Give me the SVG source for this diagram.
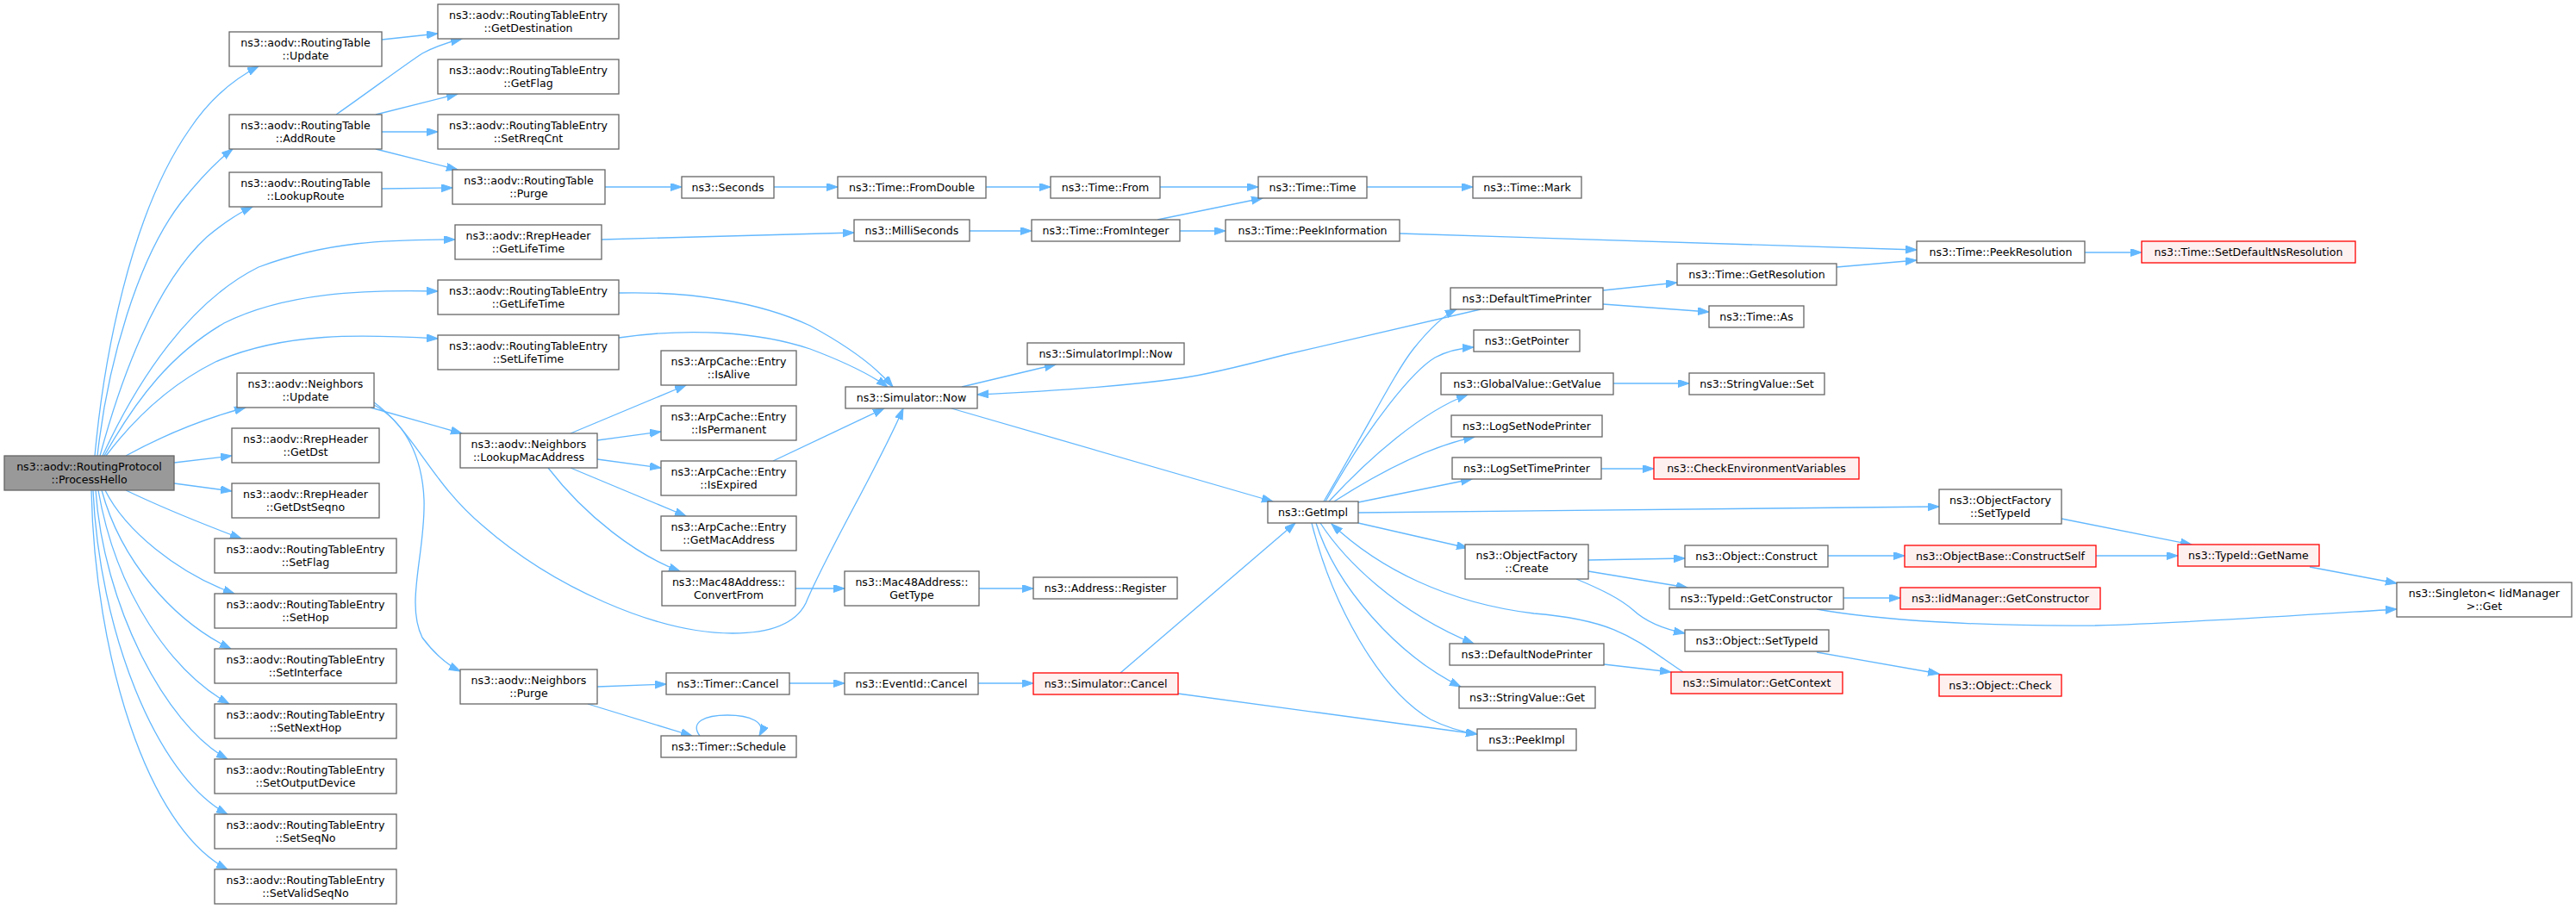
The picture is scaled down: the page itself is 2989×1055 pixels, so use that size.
<svg xmlns="http://www.w3.org/2000/svg" width="2989" height="1055" viewBox="0 0 2989 1055">
<style>
rect{stroke-width:1.3}
.n{fill:#ffffff;stroke:#666666}
.r{fill:#fff0f0;stroke:#ff0000}
.h{fill:#999999;stroke:#666666}
text{font-family:"DejaVu Sans","Liberation Sans",sans-serif;font-size:12.6px;fill:#000000;text-anchor:middle}
#edges path{fill:none;stroke:#63b8ff;stroke-width:1.3;marker-end:url(#a)}
</style>
<defs>
<marker id="a" markerWidth="14" markerHeight="10" refX="13" refY="4.5" orient="auto" markerUnits="userSpaceOnUse"><path d="M0,0 L13,4.5 L0,9 z" fill="#63b8ff" stroke="#63b8ff" stroke-width="1"/></marker>
</defs>
<rect width="2989" height="1055" fill="#ffffff"/>
<g id="edges">
<path d="M110,529 C120,420 150,250 220,150 C240,120 265,95 300,77"/>
<path d="M113,529 C125,420 160,300 210,235 C230,210 250,188 270,173"/>
<path d="M116,529 C140,440 180,330 240,275 C258,260 275,248 293,240"/>
<path d="M119,529 C160,440 220,350 300,310 C380,280 450,278 528,278"/>
<path d="M121,529 C160,460 200,410 260,375 C330,340 420,336 508,338"/>
<path d="M123,529 C160,480 200,445 250,420 C330,385 420,388 508,393"/>
<path d="M146,529 C190,505 240,485 285,473"/>
<path d="M202,537 L269,529"/>
<path d="M202,561 L269,570"/>
<path d="M146,569 C190,590 240,610 280,625"/>
<path d="M122,569 C145,615 205,665 272,689"/>
<path d="M118,569 C140,650 200,720 268,753"/>
<path d="M114,569 C135,690 200,780 266,817"/>
<path d="M111,569 C120,700 190,840 264,881"/>
<path d="M108,569 C115,730 180,900 264,945"/>
<path d="M106,569 C110,760 170,960 264,1009"/>
<path d="M443,46 L508,39"/>
<path d="M390,133 C430,105 470,75 490,62 C505,54 520,49 536,45"/>
<path d="M436,133 L531,109"/>
<path d="M443,153 L508,153"/>
<path d="M436,173 L531,197"/>
<path d="M443,219 L525,218"/>
<path d="M702,217 L791,217"/>
<path d="M898,217 L972,217"/>
<path d="M1144,217 L1219,217"/>
<path d="M1346,217 L1460,217"/>
<path d="M1586,217 L1709,217"/>
<path d="M698,278 L991,270"/>
<path d="M1125,268 L1197,268"/>
<path d="M1343,255 L1465,230"/>
<path d="M1369,268 L1422,268"/>
<path d="M1624,271 L2224,290"/>
<path d="M2131,310 L2224,302"/>
<path d="M2419,293 L2485,293"/>
<path d="M1860,337 L1946,328"/>
<path d="M1860,353 L1983,362"/>
<path d="M718,340 C800,338 880,350 940,378 C990,405 1020,430 1036,449"/>
<path d="M718,392 C800,380 880,385 940,405 C980,420 1010,435 1030,449"/>
<path d="M897,535 L1026,474"/>
<path d="M434,467 C480,500 500,560 560,610 C640,680 760,735 850,735 C900,735 925,720 935,700 C960,640 1020,540 1048,474"/>
<path d="M434,470 C470,490 490,530 492,580 C494,640 470,700 490,740 C505,760 520,772 534,779"/>
<path d="M430,473 L536,503"/>
<path d="M662,503 L796,447"/>
<path d="M693,511 L767,501"/>
<path d="M693,533 L767,543"/>
<path d="M662,543 L796,599"/>
<path d="M636,543 C680,600 740,645 789,663"/>
<path d="M923,683 L980,683"/>
<path d="M1136,683 L1199,683"/>
<path d="M693,797 L773,794"/>
<path d="M682,817 L803,854"/>
<path d="M812,854 C800,838 818,830 844,830 C870,830 890,838 881,854"/>
<path d="M916,793 L980,793"/>
<path d="M1135,793 L1199,793"/>
<path d="M1300,781 L1503,607"/>
<path d="M1367,805 L1714,852"/>
<path d="M1116,449 L1225,423"/>
<path d="M1104,474 L1477,582"/>
<path d="M1718,359 L1490,412 C1440,425 1400,435 1370,439 C1290,450 1200,455 1134,458"/>
<path d="M1536,582 C1590,490 1620,430 1640,405 C1660,380 1675,366 1690,359"/>
<path d="M1538,582 C1590,490 1640,430 1665,415 C1680,407 1695,404 1710,403"/>
<path d="M1542,582 C1590,530 1650,478 1703,458"/>
<path d="M1548,582 C1590,555 1650,520 1711,507"/>
<path d="M1576,583 L1708,556"/>
<path d="M1576,595 L2250,588"/>
<path d="M1576,607 L1703,636"/>
<path d="M1532,607 C1560,650 1620,710 1710,747"/>
<path d="M1527,607 C1550,680 1620,760 1695,797"/>
<path d="M1522,607 C1545,700 1600,800 1660,835 C1680,845 1700,850 1714,852"/>
<path d="M1953,780 C1900,745 1880,720 1780,712 C1680,700 1600,660 1545,608"/>
<path d="M1861,771 L1939,780"/>
<path d="M1872,445 L1960,445"/>
<path d="M1858,544 L1919,544"/>
<path d="M1843,650 L1955,648"/>
<path d="M1843,663 L1958,682"/>
<path d="M1829,672 C1860,685 1880,695 1895,708 C1910,722 1930,730 1955,735"/>
<path d="M2121,645 L2210,645"/>
<path d="M2139,694 L2205,694"/>
<path d="M2108,707 C2180,720 2300,727 2431,726 C2560,722 2700,712 2781,707"/>
<path d="M2108,757 L2250,782"/>
<path d="M2392,602 L2543,632"/>
<path d="M2432,645 L2527,645"/>
<path d="M2680,658 L2781,677"/>
</g>
<g id="n_processhello"><rect class="h" x="5" y="529" width="197" height="40"/><text x="103.5" y="545.5">ns3::aodv::RoutingProtocol</text><text x="103.5" y="560.5">::ProcessHello</text></g>
<g id="n_rt_update"><rect class="n" x="266" y="37" width="177" height="40"/><text x="354.5" y="53.5">ns3::aodv::RoutingTable</text><text x="354.5" y="68.5">::Update</text></g>
<g id="n_rt_addroute"><rect class="n" x="266" y="133" width="177" height="40"/><text x="354.5" y="149.5">ns3::aodv::RoutingTable</text><text x="354.5" y="164.5">::AddRoute</text></g>
<g id="n_rt_lookuproute"><rect class="n" x="266" y="200" width="177" height="40"/><text x="354.5" y="216.5">ns3::aodv::RoutingTable</text><text x="354.5" y="231.5">::LookupRoute</text></g>
<g id="n_nb_update"><rect class="n" x="275" y="433" width="159" height="40"/><text x="354.5" y="449.5">ns3::aodv::Neighbors</text><text x="354.5" y="464.5">::Update</text></g>
<g id="n_rrep_getdst"><rect class="n" x="269" y="497" width="171" height="40"/><text x="354.5" y="513.5">ns3::aodv::RrepHeader</text><text x="354.5" y="528.5">::GetDst</text></g>
<g id="n_rrep_getdstseqno"><rect class="n" x="269" y="561" width="171" height="40"/><text x="354.5" y="577.5">ns3::aodv::RrepHeader</text><text x="354.5" y="592.5">::GetDstSeqno</text></g>
<g id="n_rte_setflag"><rect class="n" x="249" y="625" width="211" height="40"/><text x="354.5" y="641.5">ns3::aodv::RoutingTableEntry</text><text x="354.5" y="656.5">::SetFlag</text></g>
<g id="n_rte_sethop"><rect class="n" x="249" y="689" width="211" height="40"/><text x="354.5" y="705.5">ns3::aodv::RoutingTableEntry</text><text x="354.5" y="720.5">::SetHop</text></g>
<g id="n_rte_setinterface"><rect class="n" x="249" y="753" width="211" height="40"/><text x="354.5" y="769.5">ns3::aodv::RoutingTableEntry</text><text x="354.5" y="784.5">::SetInterface</text></g>
<g id="n_rte_setnexthop"><rect class="n" x="249" y="817" width="211" height="40"/><text x="354.5" y="833.5">ns3::aodv::RoutingTableEntry</text><text x="354.5" y="848.5">::SetNextHop</text></g>
<g id="n_rte_setoutputdevice"><rect class="n" x="249" y="881" width="211" height="40"/><text x="354.5" y="897.5">ns3::aodv::RoutingTableEntry</text><text x="354.5" y="912.5">::SetOutputDevice</text></g>
<g id="n_rte_setseqno"><rect class="n" x="249" y="945" width="211" height="40"/><text x="354.5" y="961.5">ns3::aodv::RoutingTableEntry</text><text x="354.5" y="976.5">::SetSeqNo</text></g>
<g id="n_rte_setvalidseqno"><rect class="n" x="249" y="1009" width="211" height="40"/><text x="354.5" y="1025.5">ns3::aodv::RoutingTableEntry</text><text x="354.5" y="1040.5">::SetValidSeqNo</text></g>
<g id="n_rte_getdestination"><rect class="n" x="508" y="5" width="210" height="40"/><text x="613" y="21.5">ns3::aodv::RoutingTableEntry</text><text x="613" y="36.5">::GetDestination</text></g>
<g id="n_rte_getflag"><rect class="n" x="508" y="69" width="210" height="40"/><text x="613" y="85.5">ns3::aodv::RoutingTableEntry</text><text x="613" y="100.5">::GetFlag</text></g>
<g id="n_rte_setrreqcnt"><rect class="n" x="508" y="133" width="210" height="40"/><text x="613" y="149.5">ns3::aodv::RoutingTableEntry</text><text x="613" y="164.5">::SetRreqCnt</text></g>
<g id="n_rt_purge"><rect class="n" x="525" y="197" width="177" height="40"/><text x="613.5" y="213.5">ns3::aodv::RoutingTable</text><text x="613.5" y="228.5">::Purge</text></g>
<g id="n_rrep_getlifetime"><rect class="n" x="528" y="261" width="170" height="40"/><text x="613" y="277.5">ns3::aodv::RrepHeader</text><text x="613" y="292.5">::GetLifeTime</text></g>
<g id="n_rte_getlifetime"><rect class="n" x="508" y="325" width="210" height="40"/><text x="613" y="341.5">ns3::aodv::RoutingTableEntry</text><text x="613" y="356.5">::GetLifeTime</text></g>
<g id="n_rte_setlifetime"><rect class="n" x="508" y="389" width="210" height="40"/><text x="613" y="405.5">ns3::aodv::RoutingTableEntry</text><text x="613" y="420.5">::SetLifeTime</text></g>
<g id="n_nb_lookupmac"><rect class="n" x="534" y="503" width="159" height="40"/><text x="613.5" y="519.5">ns3::aodv::Neighbors</text><text x="613.5" y="534.5">::LookupMacAddress</text></g>
<g id="n_nb_purge"><rect class="n" x="534" y="777" width="159" height="40"/><text x="613.5" y="793.5">ns3::aodv::Neighbors</text><text x="613.5" y="808.5">::Purge</text></g>
<g id="n_seconds"><rect class="n" x="791" y="205" width="107" height="25"/><text x="844.5" y="221.5">ns3::Seconds</text></g>
<g id="n_arp_isalive"><rect class="n" x="767" y="407" width="157" height="40"/><text x="845.5" y="423.5">ns3::ArpCache::Entry</text><text x="845.5" y="438.5">::IsAlive</text></g>
<g id="n_arp_ispermanent"><rect class="n" x="767" y="471" width="157" height="40"/><text x="845.5" y="487.5">ns3::ArpCache::Entry</text><text x="845.5" y="502.5">::IsPermanent</text></g>
<g id="n_arp_isexpired"><rect class="n" x="767" y="535" width="157" height="40"/><text x="845.5" y="551.5">ns3::ArpCache::Entry</text><text x="845.5" y="566.5">::IsExpired</text></g>
<g id="n_arp_getmac"><rect class="n" x="767" y="599" width="157" height="40"/><text x="845.5" y="615.5">ns3::ArpCache::Entry</text><text x="845.5" y="630.5">::GetMacAddress</text></g>
<g id="n_mac_convertfrom"><rect class="n" x="768" y="663" width="155" height="40"/><text x="845.5" y="679.5">ns3::Mac48Address::</text><text x="845.5" y="694.5">ConvertFrom</text></g>
<g id="n_timer_cancel"><rect class="n" x="773" y="781" width="143" height="25"/><text x="844.5" y="797.5">ns3::Timer::Cancel</text></g>
<g id="n_timer_schedule"><rect class="n" x="767" y="854" width="157" height="25"/><text x="845.5" y="870.5">ns3::Timer::Schedule</text></g>
<g id="n_time_fromdouble"><rect class="n" x="972" y="205" width="172" height="25"/><text x="1058" y="221.5">ns3::Time::FromDouble</text></g>
<g id="n_milliseconds"><rect class="n" x="991" y="255" width="134" height="25"/><text x="1058" y="271.5">ns3::MilliSeconds</text></g>
<g id="n_sim_now"><rect class="n" x="981" y="449" width="153" height="25"/><text x="1057.5" y="465.5">ns3::Simulator::Now</text></g>
<g id="n_mac_gettype"><rect class="n" x="980" y="663" width="156" height="40"/><text x="1058" y="679.5">ns3::Mac48Address::</text><text x="1058" y="694.5">GetType</text></g>
<g id="n_eventid_cancel"><rect class="n" x="980" y="781" width="155" height="25"/><text x="1057.5" y="797.5">ns3::EventId::Cancel</text></g>
<g id="n_time_from"><rect class="n" x="1219" y="205" width="127" height="25"/><text x="1282.5" y="221.5">ns3::Time::From</text></g>
<g id="n_time_frominteger"><rect class="n" x="1197" y="255" width="172" height="25"/><text x="1283" y="271.5">ns3::Time::FromInteger</text></g>
<g id="n_simimpl_now"><rect class="n" x="1192" y="398" width="182" height="25"/><text x="1283" y="414.5">ns3::SimulatorImpl::Now</text></g>
<g id="n_address_register"><rect class="n" x="1199" y="670" width="167" height="25"/><text x="1282.5" y="686.5">ns3::Address::Register</text></g>
<g id="n_sim_cancel"><rect class="r" x="1199" y="781" width="168" height="25"/><text x="1283" y="797.5">ns3::Simulator::Cancel</text></g>
<g id="n_time_time"><rect class="n" x="1460" y="205" width="126" height="25"/><text x="1523" y="221.5">ns3::Time::Time</text></g>
<g id="n_time_peekinfo"><rect class="n" x="1422" y="255" width="202" height="25"/><text x="1523" y="271.5">ns3::Time::PeekInformation</text></g>
<g id="n_getimpl"><rect class="n" x="1471" y="582" width="105" height="25"/><text x="1523.5" y="598.5">ns3::GetImpl</text></g>
<g id="n_time_mark"><rect class="n" x="1709" y="205" width="126" height="25"/><text x="1772" y="221.5">ns3::Time::Mark</text></g>
<g id="n_defaulttimeprinter"><rect class="n" x="1683" y="334" width="177" height="25"/><text x="1771.5" y="350.5">ns3::DefaultTimePrinter</text></g>
<g id="n_getpointer"><rect class="n" x="1710" y="383" width="123" height="25"/><text x="1771.5" y="399.5">ns3::GetPointer</text></g>
<g id="n_globalvalue_getvalue"><rect class="n" x="1672" y="433" width="200" height="25"/><text x="1772" y="449.5">ns3::GlobalValue::GetValue</text></g>
<g id="n_logsetnodeprinter"><rect class="n" x="1684" y="482" width="175" height="25"/><text x="1771.5" y="498.5">ns3::LogSetNodePrinter</text></g>
<g id="n_logsettimeprinter"><rect class="n" x="1685" y="531" width="173" height="25"/><text x="1771.5" y="547.5">ns3::LogSetTimePrinter</text></g>
<g id="n_objfactory_create"><rect class="n" x="1700" y="632" width="143" height="40"/><text x="1771.5" y="648.5">ns3::ObjectFactory</text><text x="1771.5" y="663.5">::Create</text></g>
<g id="n_defaultnodeprinter"><rect class="n" x="1682" y="747" width="179" height="25"/><text x="1771.5" y="763.5">ns3::DefaultNodePrinter</text></g>
<g id="n_stringvalue_get"><rect class="n" x="1693" y="797" width="158" height="25"/><text x="1772" y="813.5">ns3::StringValue::Get</text></g>
<g id="n_peekimpl"><rect class="n" x="1714" y="846" width="115" height="25"/><text x="1771.5" y="862.5">ns3::PeekImpl</text></g>
<g id="n_time_getresolution"><rect class="n" x="1946" y="306" width="185" height="25"/><text x="2038.5" y="322.5">ns3::Time::GetResolution</text></g>
<g id="n_time_as"><rect class="n" x="1983" y="355" width="110" height="25"/><text x="2038" y="371.5">ns3::Time::As</text></g>
<g id="n_stringvalue_set"><rect class="n" x="1960" y="433" width="157" height="25"/><text x="2038.5" y="449.5">ns3::StringValue::Set</text></g>
<g id="n_checkenv"><rect class="r" x="1919" y="531" width="238" height="25"/><text x="2038" y="547.5">ns3::CheckEnvironmentVariables</text></g>
<g id="n_object_construct"><rect class="n" x="1955" y="633" width="166" height="25"/><text x="2038" y="649.5">ns3::Object::Construct</text></g>
<g id="n_typeid_getconstructor"><rect class="n" x="1937" y="682" width="202" height="25"/><text x="2038" y="698.5">ns3::TypeId::GetConstructor</text></g>
<g id="n_object_settypeid"><rect class="n" x="1955" y="731" width="167" height="25"/><text x="2038.5" y="747.5">ns3::Object::SetTypeId</text></g>
<g id="n_sim_getcontext"><rect class="r" x="1939" y="780" width="199" height="25"/><text x="2038.5" y="796.5">ns3::Simulator::GetContext</text></g>
<g id="n_time_peekresolution"><rect class="n" x="2224" y="280" width="195" height="25"/><text x="2321.5" y="296.5">ns3::Time::PeekResolution</text></g>
<g id="n_objfactory_settypeid"><rect class="n" x="2250" y="568" width="142" height="40"/><text x="2321" y="584.5">ns3::ObjectFactory</text><text x="2321" y="599.5">::SetTypeId</text></g>
<g id="n_objectbase_constructself"><rect class="r" x="2210" y="633" width="222" height="25"/><text x="2321" y="649.5">ns3::ObjectBase::ConstructSelf</text></g>
<g id="n_iidmanager_getconstructor"><rect class="r" x="2205" y="682" width="232" height="25"/><text x="2321" y="698.5">ns3::IidManager::GetConstructor</text></g>
<g id="n_object_check"><rect class="r" x="2250" y="783" width="142" height="25"/><text x="2321" y="799.5">ns3::Object::Check</text></g>
<g id="n_time_setdefaultns"><rect class="r" x="2485" y="280" width="248" height="25"/><text x="2609" y="296.5">ns3::Time::SetDefaultNsResolution</text></g>
<g id="n_typeid_getname"><rect class="r" x="2527" y="632" width="164" height="25"/><text x="2609" y="648.5">ns3::TypeId::GetName</text></g>
<g id="n_singleton_get"><rect class="n" x="2781" y="676" width="203" height="40"/><text x="2882.5" y="692.5">ns3::Singleton&lt; IidManager</text><text x="2882.5" y="707.5">&gt;::Get</text></g>
</svg>
